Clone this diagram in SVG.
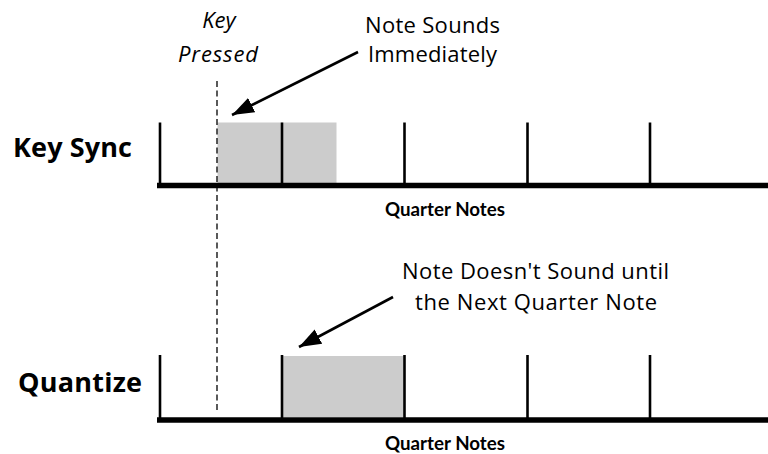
<svg xmlns="http://www.w3.org/2000/svg" width="768" height="454" viewBox="0 0 768 454">
<style>
.lbl{font-family:"Open Sans","DejaVu Sans",sans-serif;fill:#000}
.row{font-size:27px;font-weight:bold}
.ax{font-family:Lato,"Open Sans",sans-serif;font-size:19px;font-weight:bold}
.note{font-size:22px}
.key{font-size:22px;font-style:italic}
.tick{stroke:#000;stroke-width:2.6;fill:none}
.base{stroke:#000;stroke-width:5.5;fill:none}
.box{fill:#cccccc;stroke:none}
.dash{stroke:#000;stroke-width:1.3;stroke-dasharray:6 3.5;fill:none}
.arr{stroke:#000;stroke-width:2.6;fill:none}
</style>
<defs>
<marker id="ah" markerUnits="userSpaceOnUse" markerWidth="24" markerHeight="18" viewBox="-22 -9 24 18" refX="0" refY="0" orient="auto">
<path d="M0,0 L-22,-8 L-22,8 Z" fill="#000"/>
</marker>
</defs>

<g id="keysync">
<rect class="box" x="217.5" y="122.5" width="119" height="61"/>
<line class="tick" x1="160" y1="122.5" x2="160" y2="185"/>
<line class="tick" x1="282" y1="122.5" x2="282" y2="185"/>
<line class="tick" x1="404.5" y1="122.5" x2="404.5" y2="185"/>
<line class="tick" x1="527.5" y1="122.5" x2="527.5" y2="185"/>
<line class="tick" x1="650" y1="122.5" x2="650" y2="185"/>
<line class="base" x1="157" y1="185.5" x2="768" y2="185.5"/>
<text class="lbl row" x="13" y="157" textLength="119" lengthAdjust="spacing">Key Sync</text>
<text class="lbl ax" x="445" y="216" text-anchor="middle" textLength="120" lengthAdjust="spacingAndGlyphs">Quarter Notes</text>
</g>

<g id="quantize">
<rect class="box" x="282" y="356" width="122.5" height="61"/>
<line class="tick" x1="160" y1="355" x2="160" y2="420"/>
<line class="tick" x1="282" y1="355" x2="282" y2="420"/>
<line class="tick" x1="404.5" y1="355" x2="404.5" y2="420"/>
<line class="tick" x1="527.5" y1="355" x2="527.5" y2="420"/>
<line class="tick" x1="650" y1="355" x2="650" y2="420"/>
<line class="base" x1="157" y1="420" x2="768" y2="420"/>
<text class="lbl row" x="18" y="392" textLength="124" lengthAdjust="spacing">Quantize</text>
<text class="lbl ax" x="445" y="450" text-anchor="middle" textLength="120" lengthAdjust="spacingAndGlyphs">Quarter Notes</text>
</g>

<g id="keypressed">
<line class="dash" x1="217" y1="81" x2="217" y2="413"/>
<text class="lbl key" x="219" y="28" text-anchor="middle">Key</text>
<text class="lbl key" x="218" y="62" text-anchor="middle" textLength="80" lengthAdjust="spacing">Pressed</text>
</g>

<g id="note-immediate">
<text class="lbl note" x="432.5" y="33" text-anchor="middle" textLength="135" lengthAdjust="spacing">Note Sounds</text>
<text class="lbl note" x="432.5" y="62" text-anchor="middle" textLength="129" lengthAdjust="spacing">Immediately</text>
</g>

<g id="note-delayed">
<text class="lbl note" x="535.5" y="279" text-anchor="middle" textLength="267" lengthAdjust="spacing">Note Doesn't Sound until</text>
<text class="lbl note" x="536" y="310" text-anchor="middle" textLength="242" lengthAdjust="spacing">the Next Quarter Note</text>
</g>

<g id="connectors">
<line class="arr" x1="358" y1="52" x2="232" y2="115" marker-end="url(#ah)"/>
<line class="arr" x1="393" y1="297" x2="299" y2="347" marker-end="url(#ah)"/>
</g>
</svg>
